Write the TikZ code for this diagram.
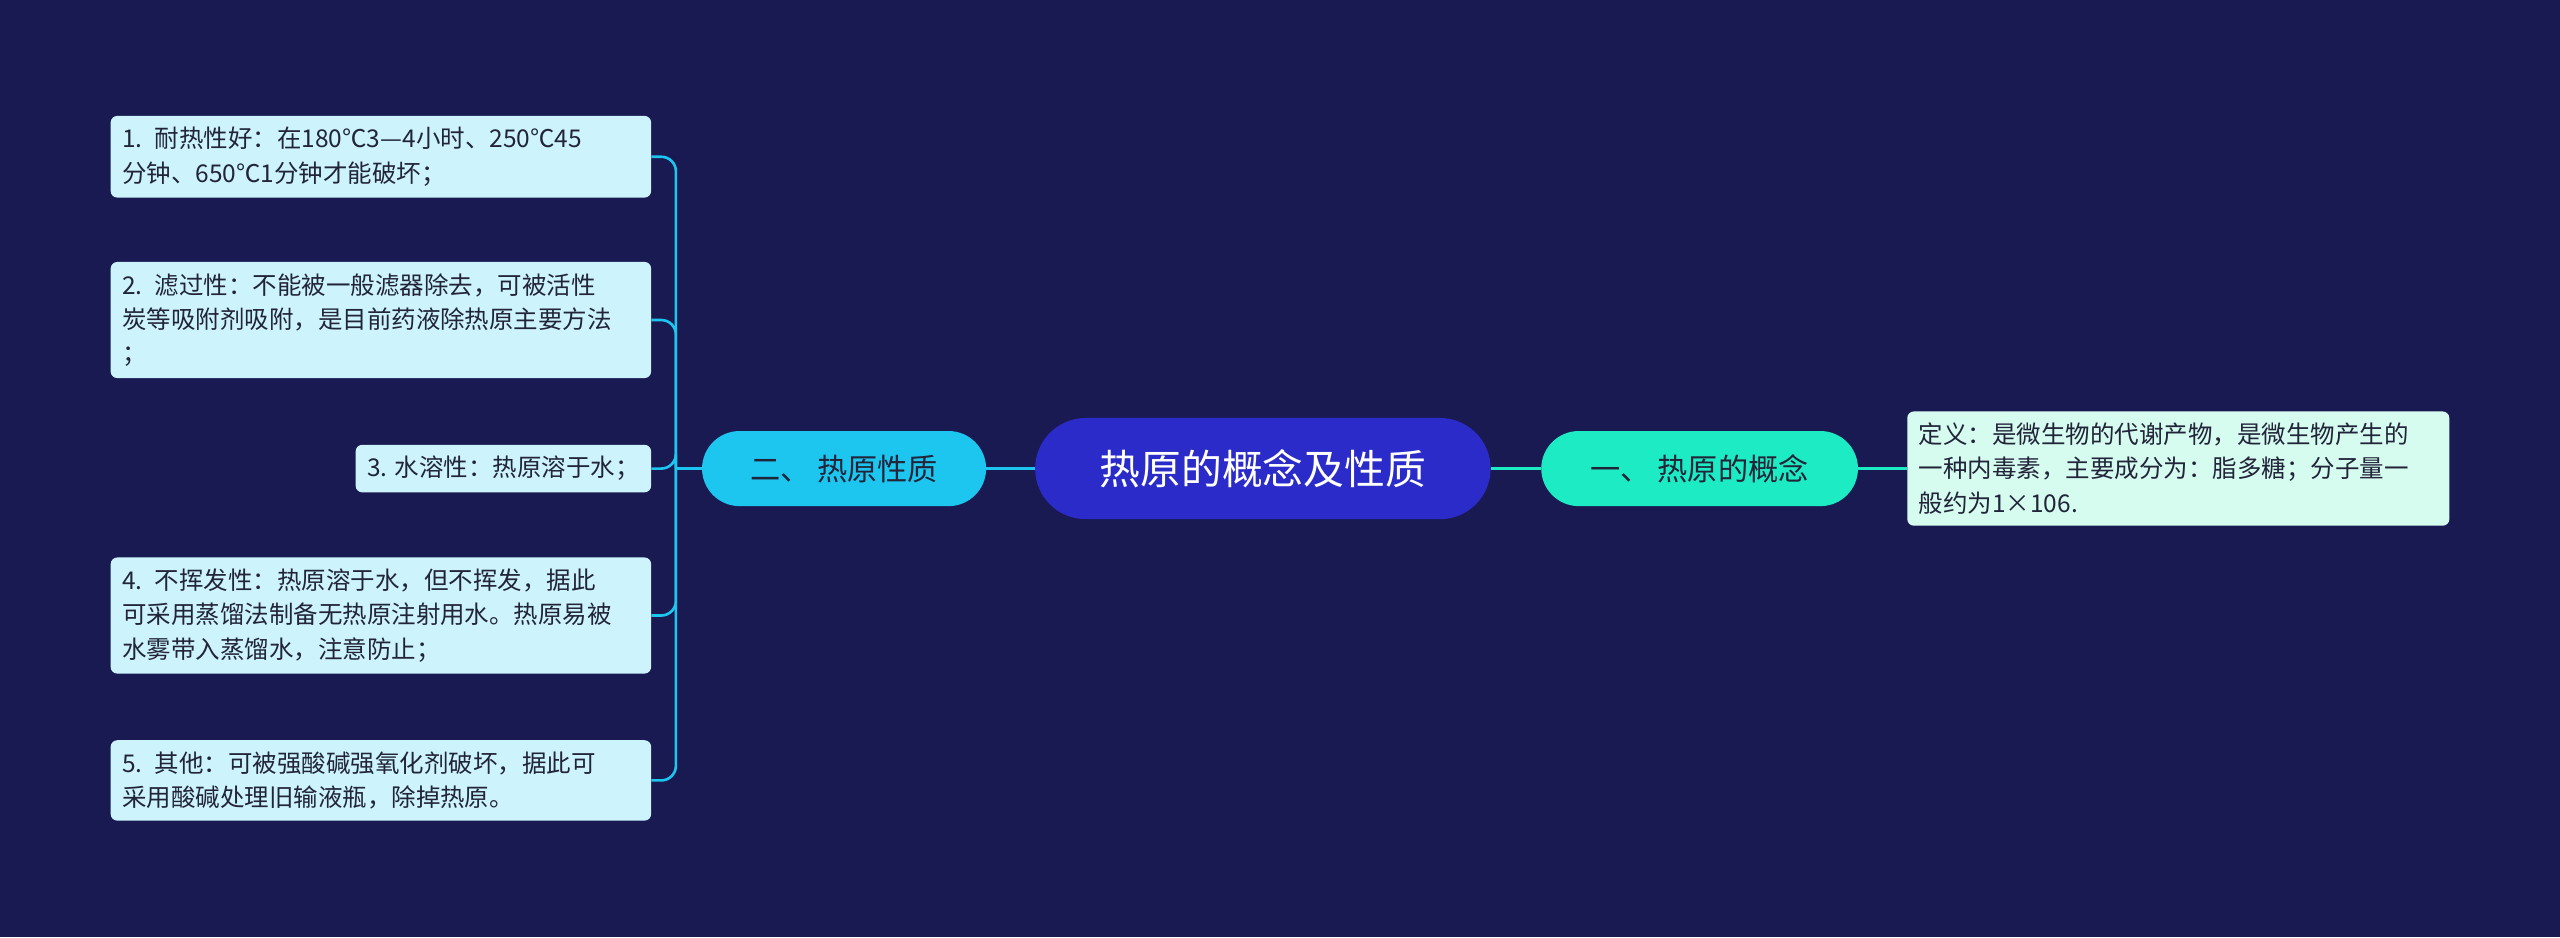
\documentclass[tikz,border=0pt]{standalone}
\usepackage{fontspec}
\setmainfont{Noto Sans CJK SC}
\definecolor{bg}{HTML}{191A52}
\definecolor{cen}{HTML}{2A2BC8}
\definecolor{teal}{HTML}{1CEBC3}
\definecolor{cyanb}{HTML}{1CC6EE}
\definecolor{leafc}{HTML}{CDF4FC}
\definecolor{leafg}{HTML}{D6FCEF}
\definecolor{txt}{HTML}{22243A}
\begin{document}
\begin{tikzpicture}[x=1pt,y=-1pt,
  leaf/.style={rounded corners=4pt,fill=leafc,text=txt,align=left,anchor=east,inner xsep=7pt,inner ysep=7pt,font=\fontsize{15}{21}\selectfont},
  pill/.style={rounded corners=23pt,minimum height=46pt,text=txt,font=\fontsize{18.5}{20}\selectfont},
  conn/.style={cyanb,line width=1.6pt,rounded corners=9pt}]
\fill[bg] (0,0) rectangle (1568,574);
\useasboundingbox (0,0) rectangle (1568,574);
\node[pill,fill=cen,text=white,minimum width=279pt,minimum height=62pt,rounded corners=31pt,font=\fontsize{25}{28}\selectfont] (c) at (773.5,287) {热原的概念及性质};
\node[pill,fill=teal,minimum width=194pt] (r1) at (1041,287) {一、 热原的概念};
\node[pill,fill=cyanb,minimum width=174pt] (l1) at (517,287) {二、 热原性质};
\node[leaf,fill=leafg,anchor=west,text width=318pt] (rl) at (1168,287) {定义：是微生物的代谢产物，是微生物产生的\\一种内毒素，主要成分为：脂多糖；分子量一\\般约为1×106.};
\node[leaf,text width=317pt] (a) at (399,96) {1. 耐热性好：在180℃3—4小时、250℃45\\分钟、650℃1分钟才能破坏；};
\node[leaf,text width=317pt] (b) at (399,196) {2. 滤过性：不能被一般滤器除去，可被活性\\炭等吸附剂吸附，是目前药液除热原主要方法\\；};
\node[leaf] (d) at (399,287) {3. 水溶性：热原溶于水；};
\node[leaf,text width=317pt] (e) at (399,377) {4. 不挥发性：热原溶于水，但不挥发，据此\\可采用蒸馏法制备无热原注射用水。热原易被\\水雾带入蒸馏水，注意防止；};
\node[leaf,text width=317pt] (f) at (399,478) {5. 其他：可被强酸碱强氧化剂破坏，据此可\\采用酸碱处理旧输液瓶，除掉热原。};
\draw[teal,line width=1.6pt] (c.east) -- (r1.west);
\draw[teal,line width=1.6pt] (r1.east) -- (rl.west);
\draw[cyanb,line width=1.6pt] (l1.east) -- (c.west);
\coordinate (t) at (414,287);
\draw[conn] (l1.west) -- (t);
\foreach \n in {a,b,d,e,f} \draw[conn] (t) |- (\n.east);
\end{tikzpicture}
\end{document}
